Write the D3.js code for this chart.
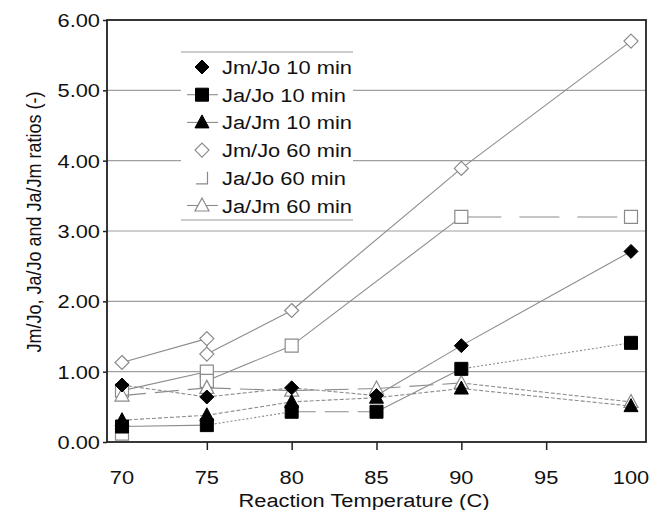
<!DOCTYPE html>
<html>
<head>
<meta charset="utf-8">
<script src="https://cdn.jsdelivr.net/npm/d3@7"></script>
<style>
  body { margin: 0; background: #fff; }
  text { font-family: "Liberation Sans", Arial, sans-serif; fill: #111; }
</style>
</head>
<body>
<svg id="chart" width="650" height="510"></svg>
<script>
// Ratios. Some 60 min runs have two readings at 75 C.
var xTicks = [70, 75, 80, 85, 90, 95, 100];
var yTicks = [0, 1, 2, 3, 4, 5, 6];

var jmJo10T = [70, 75, 80, 85, 90, 100];
var jmJo10 = [0.81, 0.64, 0.77, 0.66, 1.37, 2.71];

var jaJo10T = [70, 75, 80, 85, 90, 100];
var jaJo10 = [0.22, 0.24, 0.43, 0.43, 1.04, 1.41];

var jaJm10T = [70, 75, 80, 85, 90, 100];
var jaJm10 = [0.31, 0.38, 0.57, 0.63, 0.76, 0.51];

var jmJo60T = [70, 75, 75, 80, 90, 100];
var jmJo60 = [1.13, 1.47, 1.25, 1.87, 3.89, 5.70];

var jaJo60T = [70, 75, 75, 80, 90, 100];
var jaJo60 = [0.73, 1.00, 0.87, 1.37, 3.20, 3.20];
// lone point at 70 C, not joined to the rest
var jaJo60LoneT = [70];
var jaJo60Lone = [0.12];

var jaJm60T = [70, 75, 80, 85, 90, 100];
var jaJm60 = [0.66, 0.77, 0.73, 0.76, 0.84, 0.57];

var legendNames = ['Jm/Jo 10 min', 'Ja/Jo 10 min', 'Ja/Jm 10 min',
                   'Jm/Jo 60 min', 'Ja/Jo 60 min', 'Ja/Jm 60 min'];

// dash patterns for each segment (the original mixes them)
var DASH = { solid: null, short: '4,2', dot: '2,2', long: '24,9', longer: '40,18' };

var series = [
  { t: jmJo60T, v: jmJo60, marker: 'diamond', open: true, segs: ['solid', 'solid', 'solid', 'solid', 'solid'] },
  { t: jaJo60T, v: jaJo60, marker: 'square', open: true, segs: ['solid', 'solid', 'solid', 'solid', 'longer'] },
  { t: jaJo60LoneT, v: jaJo60Lone, marker: 'square', open: true, segs: [] },
  { t: jaJm60T, v: jaJm60, marker: 'triangle', open: true, segs: ['long', 'long', 'long', 'long', 'short'] },
  { t: jaJm10T, v: jaJm10, marker: 'triangle', open: false, segs: ['short', 'short', 'short', 'short', 'short'] },
  { t: jaJo10T, v: jaJo10, marker: 'square', open: false, segs: ['solid', 'dot', 'long', 'solid', 'dot'] },
  { t: jmJo10T, v: jmJo10, marker: 'diamond', open: false, segs: ['short', 'short', 'short', 'solid', 'solid'] }
];

var legendRows = [
  { marker: 'diamond', open: false, line: false },
  { marker: 'square', open: false, line: true },
  { marker: 'triangle', open: false, line: true },
  { marker: 'diamond', open: true, line: false },
  { marker: 'corner', open: true, line: false },
  { marker: 'triangle', open: true, line: true }
];

var frame = { left: 107, right: 646, top: 20, bottom: 442 };
var SX = 1.15; // text in the original is stretched sideways
var FS = 19;

var svg = d3.select('#chart');

var x = d3.scaleLinear().domain([70, 100]).range([122, 631]);
var y = d3.scaleLinear().domain([0, 6]).range([frame.bottom, frame.top]);

function markerPath(kind) {
  if (kind == 'diamond') return 'M0,-7L7,0L0,7L-7,0Z';
  if (kind == 'square') return 'M-6.5,-6.5H6.5V6.5H-6.5Z';
  if (kind == 'triangle') return 'M0,-7.5L7,5.5H-7Z';
  if (kind == 'corner') return 'M5.5,-6V6H-6';
  return '';
}

function stretchedText(g, px, py, str, anchor) {
  return g.append('text')
    .attr('transform', 'translate(' + px + ',' + py + ') scale(' + SX + ',1)')
    .attr('text-anchor', anchor)
    .attr('font-size', FS)
    .text(str);
}

function drawGrid() {
  svg.append('g').selectAll('line.grid')
    .data(yTicks.filter(function(d) { return d > 0 && d < 6; }))
    .enter().append('line')
    .attr('x1', frame.left).attr('x2', frame.right)
    .attr('y1', y).attr('y2', y)
    .attr('stroke', '#a0a0a0').attr('stroke-width', 1.2);
}

function drawAxes() {
  var xAxis = d3.axisBottom(x)
    .tickValues(xTicks.filter(function(d) { return d > 70 && d < 100; }))
    .tickSize(8).tickFormat('');
  var gx = svg.append('g').attr('transform', 'translate(0,' + frame.bottom + ')').call(xAxis);
  gx.select('.domain').remove();
  gx.selectAll('line').attr('stroke', '#222').attr('stroke-width', 1.5);

  var yAxis = d3.axisLeft(y).tickValues(yTicks).tickSize(4).tickFormat('');
  var gy = svg.append('g').attr('transform', 'translate(' + frame.left + ',0)').call(yAxis);
  gy.select('.domain').remove();
  gy.selectAll('line').attr('stroke', '#222').attr('stroke-width', 1.5);

  var labels = svg.append('g');
  xTicks.forEach(function(d) {
    stretchedText(labels, x(d), 484, String(d), 'middle');
  });
  yTicks.forEach(function(d) {
    stretchedText(labels, 100, y(d) + 7, d3.format('.2f')(d), 'end');
  });

  svg.append('rect')
    .attr('x', frame.left).attr('y', frame.top)
    .attr('width', frame.right - frame.left).attr('height', frame.bottom - frame.top)
    .attr('fill', 'none').attr('stroke', '#222').attr('stroke-width', 1.8);

  stretchedText(svg, 364, 507, 'Reaction Temperature (C)', 'middle');
  svg.append('text')
    .attr('transform', 'translate(41,222) scale(' + SX + ',1) rotate(-90)')
    .attr('text-anchor', 'middle')
    .attr('font-size', 18)
    .text('Jm/Jo, Ja/Jo and Ja/Jm ratios (-)');
}

function drawMarker(g, kind, open, cx, cy) {
  g.append('path')
    .attr('d', markerPath(kind))
    .attr('transform', 'translate(' + cx + ',' + cy + ')')
    .attr('fill', open ? (kind == 'corner' ? 'none' : '#fff') : '#000')
    .attr('stroke', open ? '#8a8a8a' : '#000')
    .attr('stroke-width', open ? 1.2 : 1);
}

function drawSeries(s) {
  var g = svg.append('g');
  for (var i = 0; i < s.segs.length; i++) {
    var dash = DASH[s.segs[i]];
    g.append('line')
      .attr('x1', x(s.t[i])).attr('y1', y(s.v[i]))
      .attr('x2', x(s.t[i + 1])).attr('y2', y(s.v[i + 1]))
      .attr('stroke', '#8c8c8c').attr('stroke-width', 1.1)
      .attr('stroke-dasharray', dash);
  }
  s.t.forEach(function(t, i) {
    drawMarker(g, s.marker, s.open, x(t), y(s.v[i]));
  });
}

function drawLegend() {
  var g = svg.append('g');
  var lx = 181, lw = 172, ly = 52, lh = 168;
  g.append('rect').attr('x', lx).attr('y', ly).attr('width', lw).attr('height', lh).attr('fill', '#fff');
  [ly, ly + lh].forEach(function(yy) {
    g.append('line').attr('x1', lx).attr('x2', lx + lw).attr('y1', yy).attr('y2', yy)
      .attr('stroke', '#9a9a9a').attr('stroke-width', 1.2);
  });
  legendRows.forEach(function(r, i) {
    var ry = 67 + i * 27.7;
    if (r.line) {
      g.append('line').attr('x1', 187).attr('x2', 218).attr('y1', ry).attr('y2', ry)
        .attr('stroke', '#8c8c8c').attr('stroke-width', 1.1);
    }
    drawMarker(g, r.marker, r.open, 202, ry);
    stretchedText(g, 222, ry + 7, legendNames[i], 'start');
  });
}

function main() {
  drawGrid();
  drawLegend();
  series.forEach(drawSeries);
  drawAxes();
}

main();
</script>
</body>
</html>
